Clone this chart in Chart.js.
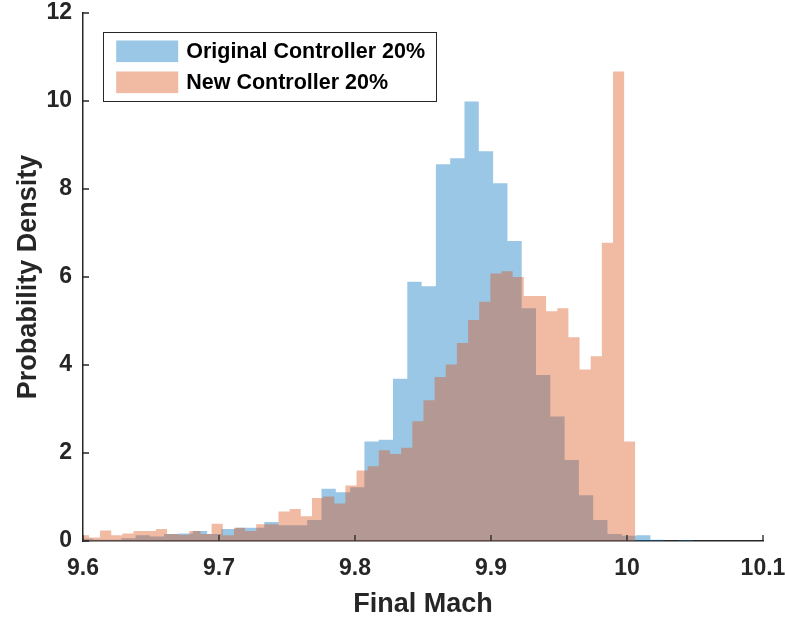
<!DOCTYPE html>
<html><head><meta charset="utf-8">
<script src="https://cdn.jsdelivr.net/npm/chart.js@4/dist/chart.umd.min.js"></script>
<style>html,body{margin:0;padding:0;background:#fff}#wrap{width:785px;height:621px}</style>
</head><body><div id="wrap"><canvas id="c" width="785" height="621"></canvas></div>
<script>
const seriesNames = ['Original Controller 20%', 'New Controller 20%'];
const originalBinStart = 9.5966;
const originalBinWidth = 0.010515;
const originalDensity = [0.05,0.03,0.03,0.06,0.13,0.10,0.16,0.17,0.23,0.16,0.27,0.30,0.30,0.43,0.36,0.36,0.48,1.19,1.11,1.22,2.26,2.30,3.69,5.89,5.79,8.56,8.70,9.99,8.86,8.13,6.82,5.29,3.77,2.83,1.84,1.04,0.48,0.16,0.12,0.13,0.03,0.00,0.02];
const newBinStart = 9.59618;
const newBinWidth = 0.0081985;
const newDensity = [0.13,0.08,0.24,0.13,0.17,0.23,0.23,0.27,0.16,0.14,0.23,0.16,0.39,0.13,0.30,0.23,0.38,0.38,0.67,0.73,0.56,0.98,1.01,0.85,1.26,1.60,1.70,2.06,1.98,2.12,2.72,3.20,3.73,4.01,4.50,5.02,5.44,6.08,6.13,6.00,5.57,5.57,5.22,5.29,4.63,3.90,4.20,6.78,10.67,2.26];
const xTickValues = [9.6, 9.7, 9.8, 9.9, 10.0, 10.1];
const xTickLabels = ['9.6', '9.7', '9.8', '9.9', '10', '10.1'];
const yTickValues = [0, 2, 4, 6, 8, 10, 12];
const yTickLabels = ['0', '2', '4', '6', '8', '10', '12'];
const xTitle = 'Final Mach';
const yTitle = 'Probability Density';

const FAMILY = "'Liberation Sans', Arial, Helvetica, sans-serif";
const AXIS = '#262626';
const blueFill = 'rgba(0,114,189,0.4)';
const orangeFill = 'rgba(217,83,25,0.4)';

function histPoints(start, width, vals) {
  const pts = vals.map((v, i) => ({x: start + i * width, y: v}));
  pts.push({x: start + vals.length * width, y: 0});
  return pts;
}

const innerTicks = {
  id: 'innerTicks',
  afterDatasetsDraw(chart) {
    const {ctx, chartArea} = chart;
    const xs = chart.scales.x, ys = chart.scales.y;
    ctx.save();
    ctx.strokeStyle = AXIS;
    ctx.lineWidth = 1.3;
    ctx.beginPath();
    xs.ticks.forEach(t => {
      const px = xs.getPixelForValue(t.value);
      ctx.moveTo(px, chartArea.bottom);
      ctx.lineTo(px, chartArea.bottom - 6);
    });
    ys.ticks.forEach(t => {
      const py = ys.getPixelForValue(t.value);
      ctx.moveTo(chartArea.left, py);
      ctx.lineTo(chartArea.left + 6, py);
    });
    ctx.stroke();
    ctx.restore();
  }
};

const boxLegend = {
  id: 'boxLegend',
  afterDraw(chart) {
    const {ctx, chartArea} = chart;
    const bx = chartArea.left + 20.5, by = chartArea.top + 19.5, bw = 333, bh = 69;
    ctx.save();
    ctx.fillStyle = '#ffffff';
    ctx.fillRect(bx, by, bw, bh);
    ctx.strokeStyle = AXIS;
    ctx.lineWidth = 1;
    ctx.strokeRect(bx, by, bw, bh);
    const items = [chart.data.datasets[1], chart.data.datasets[0]];
    const rows = [18.8, 49.8];
    ctx.font = "bold 21.5px " + FAMILY;
    ctx.textBaseline = 'middle';
    ctx.textAlign = 'left';
    items.forEach((ds, i) => {
      const cy = by + rows[i];
      ctx.fillStyle = ds.backgroundColor;
      ctx.fillRect(bx + 12.7, cy - 10.8, 62, 21.6);
      ctx.fillStyle = '#000000';
      ctx.fillText(ds.label, bx + 82.7, cy + 1);
    });
    ctx.restore();
  }
};

new Chart(document.getElementById('c'), {
  type: 'line',
  data: {
    datasets: [
      {label: seriesNames[1], data: histPoints(newBinStart, newBinWidth, newDensity), stepped: true, fill: 'origin',
       backgroundColor: orangeFill, borderWidth: 0, pointRadius: 0, order: 0},
      {label: seriesNames[0], data: histPoints(originalBinStart, originalBinWidth, originalDensity), stepped: true, fill: 'origin',
       backgroundColor: blueFill, borderWidth: 0, pointRadius: 0, order: 1}
    ]
  },
  options: {
    animation: false,
    responsive: false,
    devicePixelRatio: 1,
    layout: {padding: {left: 0, right: 22, top: 13, bottom: 0}},
    plugins: {legend: {display: false}, tooltip: {enabled: false}},
    scales: {
      x: {
        type: 'linear', min: 9.6, max: 10.1,
        afterBuildTicks: s => { s.ticks = xTickValues.map(v => ({value: v})); },
        ticks: {callback: (v, i) => xTickLabels[i], font: {family: FAMILY, size: 23, weight: 'bold'}, color: AXIS, padding: 14, maxRotation: 0, autoSkip: false},
        grid: {display: false, drawTicks: false},
        border: {display: true, color: AXIS, width: 1.5},
        title: {display: true, text: xTitle, font: {family: FAMILY, size: 27, weight: 'bold'}, color: AXIS, padding: {top: 0, bottom: 0}},
        afterFit: s => { s.height = 80; s.paddingLeft = 0; s.paddingRight = 0; s.paddingTop = 0; s.paddingBottom = 0; }
      },
      y: {
        type: 'linear', min: 0, max: 12,
        afterBuildTicks: s => { s.ticks = yTickValues.map(v => ({value: v})); },
        ticks: {callback: (v, i) => yTickLabels[i], font: {family: FAMILY, size: 23, weight: 'bold'}, color: AXIS, padding: 11, autoSkip: false},
        grid: {display: false, drawTicks: false},
        border: {display: true, color: AXIS, width: 1.5},
        title: {display: true, text: yTitle, font: {family: FAMILY, size: 27, weight: 'bold'}, color: AXIS, padding: {top: 12, bottom: 0}},
        afterFit: s => { s.width = 83; s.paddingLeft = 0; s.paddingRight = 0; s.paddingTop = 0; s.paddingBottom = 0; }
      }
    }
  },
  plugins: [innerTicks, boxLegend]
});
</script>
</body></html>
